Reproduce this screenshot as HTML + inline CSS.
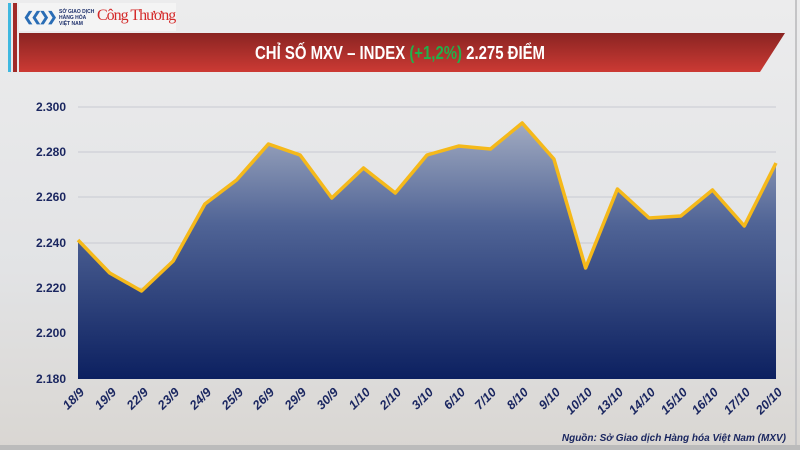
<!DOCTYPE html><html><head><meta charset="utf-8"><style>
body{margin:0;width:800px;height:450px;overflow:hidden;background:#e6e6e8;font-family:"Liberation Sans",sans-serif;position:relative}
.abs{position:absolute}
</style></head><body>
<div class="abs" style="left:0;top:0;width:800px;height:450px;background:linear-gradient(180deg,#ececed 0%,#e2e3e5 60%,#d9d6d2 100%)"></div>
<div class="abs" style="left:0;top:445px;width:800px;height:5px;background:#bbb"></div>
<div class="abs" style="left:795px;top:0;width:2px;height:445px;background:#c4c4c6"></div>
<div class="abs" style="left:8px;top:3px;width:3px;height:69px;background:#3fb8e0"></div>
<div class="abs" style="left:13px;top:3px;width:4px;height:69px;background:#a02a28"></div>
<div class="abs" style="left:19px;top:3px;width:157px;height:28px;background:#f4f4f4"></div>
<div class="abs" style="left:23px;top:9px;width:32px;height:16px;color:#2a6db5;font-size:13px;font-weight:bold;letter-spacing:-3px">❮❮❯❯</div>
<div class="abs" style="left:59px;top:9px;font-size:5px;line-height:6px;color:#1d2f6b;font-weight:bold">SỞ GIAO DỊCH<br>HÀNG HÓA<br>VIỆT NAM</div>
<div class="abs" style="left:97px;top:7px;font-family:'Liberation Serif',serif;font-size:16px;color:#d42a2a;letter-spacing:-1px">Công Thương</div>
<svg class="abs" style="left:0;top:0" width="800" height="450">
<defs>
<linearGradient id="rb" x1="0" y1="0" x2="0" y2="1"><stop offset="0" stop-color="#8a2422"/><stop offset="1" stop-color="#cc3a34"/></linearGradient>
<linearGradient id="ar" gradientUnits="userSpaceOnUse" x1="0" y1="120" x2="0" y2="379"><stop offset="0" stop-color="#a4adc2"/><stop offset="0.4" stop-color="#506496"/><stop offset="1" stop-color="#0c2060"/></linearGradient>
</defs>
<polygon points="19,33 785,33 760,72 19,72" fill="url(#rb)"/>
<text x="400" y="59" text-anchor="middle" font-family="Liberation Sans Narrow, Liberation Sans, sans-serif" font-weight="bold" font-size="18" fill="#fff" textLength="290" lengthAdjust="spacingAndGlyphs">CHỈ SỐ MXV – INDEX <tspan fill="#22b04a">(+1,2%)</tspan> 2.275 ĐIỂM</text>
<g stroke="#c8cad2" stroke-width="1">
<line x1="78" x2="776" y1="107" y2="107"/><line x1="78" x2="776" y1="152" y2="152"/><line x1="78" x2="776" y1="197" y2="197"/><line x1="78" x2="776" y1="243" y2="243"/><line x1="78" x2="776" y1="288" y2="288"/><line x1="78" x2="776" y1="333" y2="333"/>
</g>
<g font-size="12" font-weight="bold" fill="#1a2660" text-anchor="end">
<text x="66" y="111">2.300</text><text x="66" y="156">2.280</text><text x="66" y="201">2.260</text><text x="66" y="247">2.240</text><text x="66" y="292">2.220</text><text x="66" y="337">2.200</text><text x="66" y="383">2.180</text>
</g>
<polygon fill="url(#ar)" points="78,379 78,240 109.7,273 141.5,291 173.2,261 204.9,204 236.6,180 268.4,144 300.1,155 331.8,198 363.5,168 395.3,193 427,155 458.7,146 490.5,149 522.2,123 553.9,159 585.6,268 617.4,189 649.1,218 680.8,216 712.5,190 744.3,226 776,163 776,379"/>
<polyline fill="none" stroke="#f5b91a" stroke-width="3.5" stroke-linejoin="round" points="78,240 109.7,273 141.5,291 173.2,261 204.9,204 236.6,180 268.4,144 300.1,155 331.8,198 363.5,168 395.3,193 427,155 458.7,146 490.5,149 522.2,123 553.9,159 585.6,268 617.4,189 649.1,218 680.8,216 712.5,190 744.3,226 776,163"/>
<g font-size="12.5" font-weight="bold" font-style="italic" fill="#1a2660" text-anchor="end">
<text transform="translate(85,393) rotate(-45)">18/9</text>
<text transform="translate(117,393) rotate(-45)">19/9</text>
<text transform="translate(149,393) rotate(-45)">22/9</text>
<text transform="translate(180,393) rotate(-45)">23/9</text>
<text transform="translate(212,393) rotate(-45)">24/9</text>
<text transform="translate(244,393) rotate(-45)">25/9</text>
<text transform="translate(275,393) rotate(-45)">26/9</text>
<text transform="translate(307,393) rotate(-45)">29/9</text>
<text transform="translate(339,393) rotate(-45)">30/9</text>
<text transform="translate(371,393) rotate(-45)">1/10</text>
<text transform="translate(402,393) rotate(-45)">2/10</text>
<text transform="translate(434,393) rotate(-45)">3/10</text>
<text transform="translate(466,393) rotate(-45)">6/10</text>
<text transform="translate(497,393) rotate(-45)">7/10</text>
<text transform="translate(529,393) rotate(-45)">8/10</text>
<text transform="translate(561,393) rotate(-45)">9/10</text>
<text transform="translate(593,393) rotate(-45)">10/10</text>
<text transform="translate(624,393) rotate(-45)">13/10</text>
<text transform="translate(656,393) rotate(-45)">14/10</text>
<text transform="translate(688,393) rotate(-45)">15/10</text>
<text transform="translate(719,393) rotate(-45)">16/10</text>
<text transform="translate(751,393) rotate(-45)">17/10</text>
<text transform="translate(783,393) rotate(-45)">20/10</text>
</g>
<text x="786" y="441" text-anchor="end" font-size="10" font-style="italic" font-weight="bold" fill="#1a2660">Nguồn: Sở Giao dịch Hàng hóa Việt Nam (MXV)</text>
</svg>
</body></html>
